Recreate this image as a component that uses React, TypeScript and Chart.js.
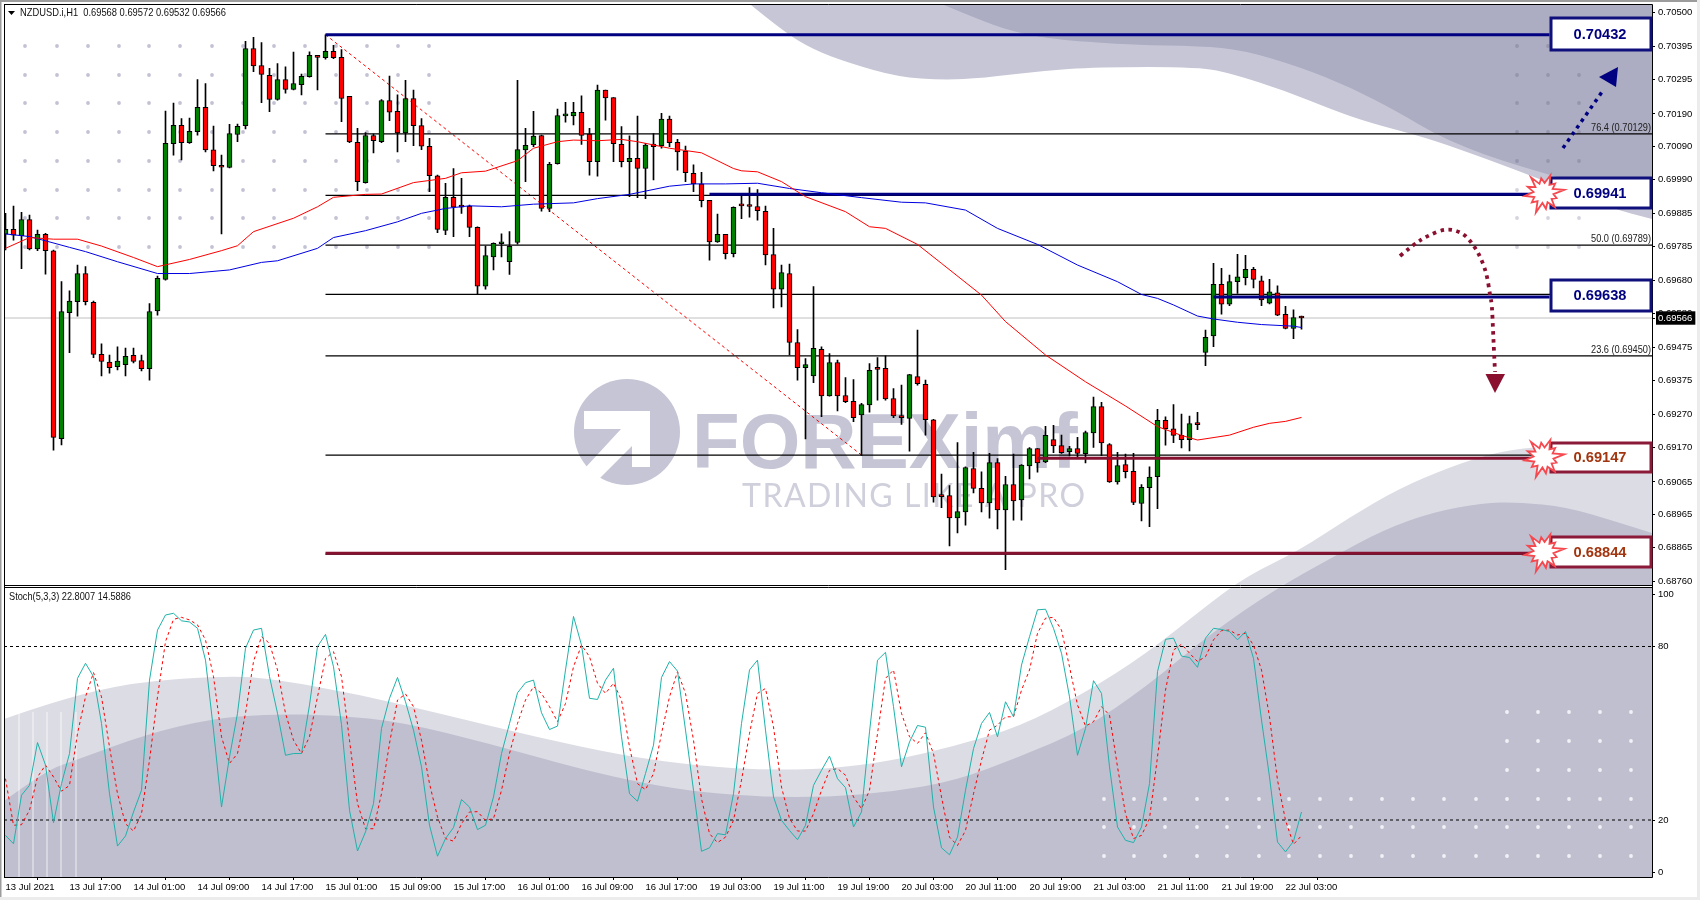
import React, { useEffect, useRef } from "react";
import { Chart, registerables } from "chart.js";

Chart.register(...registerables);

const OPEN = [
.69822,.69837,.69818,.69867,.69777,.69822,.69771,.69197,.69582,.69616,
.69702,.69614,.69455,.69431,.69417,.69423,.69452,.69436,.69411,.69588,
.69684,.70099,.70155,.70102,.70136,.70210,.70080,.70029,.70026,.70127,
.70154,.70390,.70338,.70308,.70234,.70295,.70265,.70279,.70304,.70369,
.70362,.70381,.70363,.70244,.70103,.69980,.70124,.70105,.70231,.70198,
.70132,.70237,.70154,.70091,.70001,.69834,.69935,.69907,.69908,.69843,
.69663,.69753,.69793,.69738,.69797,.70080,.70096,.70124,.69901,.70038,
.70184,.70184,.70195,.70128,.70044,.70263,.70240,.70097,.70044,.70054,
.70023,.70098,.70093,.70174,.70103,.70076,.70008,.69976,.69926,.69799,
.69822,.69763,.69911,.69909,.69907,.69892,.69760,.69654,.69702,.69491,
.69414,.69389,.69470,.69328,.69430,.69329,.69311,.69270,.69300,.69411,
.69412,.69320,.69268,.69259,.69387,.69363,.69255,.69022,.69023,.68955,
.68973,.69106,.69045,.69001,.69124,.68979,.69057,.69010,.69114,.69167,
.69126,.69194,.69176,.69157,.69167,.69151,.69215,.69295,.69179,.69065,
.69118,.69097,.68999,.69047,.69081,.69253,.69227,.69207,.69194,.69242,
.69461,.69511,.69669,.69608,.69677,.69689,.69715,.69680,.69611,.69643,
.69577,.69534,.69568];

const HIGH = [
.69886,.69908,.69889,.69881,.69835,.69825,.69774,.69677,.69649,.69728,
.69723,.69618,.69487,.69453,.69478,.69474,.69474,.69453,.69610,.69694,
.70199,.70223,.70176,.70177,.70295,.70283,.70153,.70064,.70158,.70159,
.70412,.70424,.70408,.70329,.70344,.70334,.70379,.70312,.70380,.70369,
.70432,.70400,.70387,.70244,.70146,.70133,.70128,.70234,.70306,.70248,
.70293,.70263,.70176,.70115,.70003,.69978,.70023,.69993,.69911,.69845,
.69786,.69796,.69823,.69830,.70293,.70146,.70198,.70125,.70042,.70205,
.70225,.70225,.70245,.70146,.70278,.70263,.70240,.70151,.70123,.70183,
.70100,.70130,.70192,.70183,.70112,.70092,.70034,.70011,.69926,.69884,
.69822,.69906,.69942,.69965,.69959,.69908,.69840,.69728,.69731,.69531,
.69442,.69662,.69478,.69457,.69437,.69384,.69378,.69305,.69427,.69445,
.69450,.69350,.69361,.69394,.69529,.69376,.69256,.69089,.69054,.69185,
.69111,.69155,.69096,.69152,.69136,.69082,.69150,.69118,.69170,.69167,
.69235,.69238,.69208,.69174,.69201,.69220,.69324,.69308,.69182,.69155,
.69150,.69152,.69057,.69111,.69287,.69264,.69301,.69272,.69266,.69278,
.69529,.69733,.69718,.69697,.69761,.69758,.69721,.69694,.69684,.69664,
.69602,.69591,.69572];

const LOW = [
.69774,.69804,.69717,.69774,.69772,.69700,.69162,.69178,.69460,.69572,
.69606,.69445,.69389,.69397,.69407,.69389,.69429,.69404,.69376,.69575,
.69682,.70064,.70049,.70100,.70125,.70074,.70016,.69823,.70025,.70105,
.70144,.70319,.70224,.70197,.70232,.70253,.70263,.70248,.70302,.70263,
.70357,.70359,.70166,.70102,.69955,.69978,.70071,.70102,.70169,.70074,
.70105,.70093,.70081,.69952,.69827,.69821,.69815,.69886,.69815,.69638,
.69654,.69713,.69753,.69699,.69792,.69983,.70090,.69893,.69891,.70036,
.70165,.70156,.70097,.70003,.70000,.70171,.70044,.70028,.69937,.69934,
.69931,.69988,.70085,.70090,.70018,.69983,.69952,.69906,.69743,.69797,
.69747,.69753,.69870,.69874,.69865,.69728,.69597,.69600,.69453,.69376,
.69196,.69368,.69264,.69327,.69282,.69307,.69249,.69146,.69278,.69315,
.69315,.69261,.69241,.69159,.69361,.69208,.69003,.68986,.68869,.68909,
.68933,.69031,.68973,.68954,.68921,.68797,.68948,.68948,.69074,.69095,
.69124,.69154,.69152,.69144,.69136,.69123,.69170,.69145,.69063,.69058,
.69077,.68995,.68946,.68928,.68983,.69177,.69185,.69169,.69160,.69225,
.69420,.69478,.69578,.69604,.69641,.69667,.69658,.69604,.69609,.69573,
.69533,.69503,.69532];

const CLOSE = [
.69837,.69819,.69867,.69777,.69822,.69772,.69201,.69586,.69618,.69702,
.69616,.69455,.69433,.69414,.69434,.69449,.69433,.69411,.69586,.69687,
.70100,.70155,.70102,.70137,.70210,.70080,.70032,.70027,.70130,.70152,
.70390,.70337,.70311,.70234,.70295,.70265,.70283,.70305,.70369,.70363,
.70381,.70362,.70237,.70104,.69983,.70124,.70108,.70231,.70195,.70132,
.70237,.70154,.70091,.70001,.69837,.69935,.69905,.69905,.69843,.69663,
.69757,.69794,.69796,.69785,.70081,.70094,.70122,.69901,.70036,.70185,
.70186,.70195,.70124,.70044,.70263,.70239,.70099,.70044,.70054,.70023,
.70095,.70090,.70174,.70102,.70074,.70010,.69976,.69925,.69799,.69822,
.69763,.69904,.69909,.69907,.69894,.69759,.69654,.69705,.69491,.69414,
.69424,.69473,.69328,.69430,.69328,.69310,.69261,.69301,.69406,.69409,
.69319,.69267,.69261,.69393,.69365,.69255,.69019,.69020,.68955,.68974,
.69109,.69045,.69001,.69124,.68979,.69057,.69007,.69116,.69167,.69123,
.69207,.69175,.69154,.69167,.69152,.69216,.69295,.69184,.69065,.69115,
.69096,.69002,.69048,.69080,.69253,.69228,.69207,.69194,.69243,.69240,
.69507,.69669,.69608,.69677,.69692,.69715,.69684,.69621,.69646,.69575,
.69534,.69567,.69566];

const MA_FAST_BARS = [0,3,6,9,12,16,19,23,27,29,31,36,39,41,45,47,51,55,57,60,64,66,69,71,74,77,79,83,87,91,92,94,97,100,105,108,110,114,117,122,125,130,135,140,144,146,147,149,153,156,158,160,162];
const MA_FAST = [.69779,.69812,.69807,.69807,.69786,.69751,.69723,.69745,.69772,.69787,.69830,.69871,.69906,.69935,.69944,.69945,.69980,.69993,.70010,.70015,.70047,.70085,.70105,.70110,.70108,.70112,.70105,.70085,.70071,.70023,.70016,.70013,.69983,.69937,.69891,.69845,.69840,.69791,.69733,.69636,.69555,.69453,.69371,.69297,.69234,.69216,.69207,.69193,.69208,.69232,.69244,.69250,.69262];

const MA_SLOW_BARS = [0,3,5,8,10,14,19,23,28,32,34,39,41,45,49,52,55,58,62,66,71,74,78,80,83,86,90,94,98,102,107,112,115,120,124,129,134,139,142,144,146,149,151,154,157,161,162];
const MA_SLOW = [.69823,.69815,.69802,.69782,.69769,.69738,.69702,.69702,.69713,.69736,.69741,.69779,.69812,.69833,.69860,.69886,.69901,.69909,.69906,.69914,.69918,.69931,.69944,.69954,.69969,.69976,.69976,.69978,.69962,.69949,.69934,.69920,.69918,.69896,.69840,.69791,.69728,.69677,.69638,.69626,.69606,.69572,.69563,.69553,.69546,.69541,.69537];

const STOCH_MAIN = [14.7,11.8,28.6,32,46.8,39,19.1,32.6,43,69,74.2,69.6,53.4,29.1,11,14.5,22.8,30.3,68.4,85.7,90.9,91.5,88.9,88.5,86.3,75.3,51.1,24.5,41.8,56.9,79.4,85.7,86.3,69.6,56.9,42.4,43,43,59.8,80,84.2,73,53,23.4,9.3,15.9,25.7,51.7,62.1,69.3,60.9,51.1,38.4,18.2,7.5,13.6,17.4,27.1,24.5,16.7,18.2,28,43,53.4,64,67.5,68.4,57.1,51.3,52.5,71.9,90.4,80.5,62.1,61.7,68.4,72.5,48.8,29.1,26.5,36.1,45.9,69.3,74.8,71.5,51.1,30.3,9.2,10.4,15.3,14.9,29.1,53.4,71.9,75.3,51.1,28,19.9,16.4,13.2,18.2,32,37.2,42.1,34.3,31.2,17.6,22.8,50.5,75.3,78,59.2,38.4,47,52.7,52.1,24.5,10.4,8,14.1,30.3,44.7,53.4,57.2,48.8,60.9,55.7,73.6,83.4,92.7,92.9,86.3,77.7,62.6,42.4,51.7,68.2,63.8,38.4,17.6,13,12.2,17.6,32.6,71.3,82.5,82.9,76.7,76.2,72.8,82.9,86.3,85.9,85.2,82.3,85.2,75.9,54.6,34.9,12.4,9,12.7,22.8];
const STOCH_SIGNAL = [34.3,18.2,18.4,23.4,34.9,39,34.9,30,32,49.9,62.6,71,62.6,45.3,29.1,18.7,16.2,22.2,40.7,62.6,81.7,89.4,90.1,89.2,87.5,82.3,69.6,48.8,39.6,43,56.9,74.8,83.4,81.1,71.9,56.9,47.6,43,48.8,62.6,75.9,78.2,69.6,47.6,25.7,17,17,29.1,46.5,61.5,63.6,59.2,47.6,32.6,21.1,13.6,12.7,18.7,22.8,22.9,19.9,20.5,30.3,43,53.4,61.5,66.1,63.8,59.2,54,60.3,73,80.5,76.5,67.3,63.8,67.3,61.5,45.3,32.6,30.5,36.1,49.9,62.6,71.3,63.8,47.6,27.4,15.3,12.2,14.1,19.9,33.8,49.9,63.8,65.5,52.2,31.4,20.5,16.2,16.2,22.2,30.3,37.2,37.8,35.5,28,23.9,30.3,49.9,69,71.9,56.9,48.8,46.5,50.2,43,28,14.1,11.2,16.4,29.1,40.7,51.1,52.8,55.7,55.7,64.9,71.9,84.6,89.8,90.1,85.7,73,59.8,52.5,54,59.2,56.3,38.4,22.2,13.6,14.7,20.5,41.8,64.9,78.8,80.8,77.7,74.8,76.5,82.3,85.5,85.7,84,84.6,80.5,71.9,55.7,33.8,19.9,11.6,14.6];

const FIB_LEVELS = [.70129,.69941,.69789,.69638,.69450,.69147,.68844];
const FIB_LABELS = ["76.4 (0.70129)","50.0 (0.69789)","23.6 (0.69450)"];
const FIB_LABEL_LEVELS = [.70129,.69789,.69450];
const FIB_START_BAR = 40;
const BLUE_LEVELS = [.70432,.69944,.69630];
const BLUE_START_BARS = [40,88,151];
const BLUE_END_BARS = [193,191,193];
const RED_LEVELS = [.69137,.68847];
const RED_START_BARS = [129,40];
const RED_END_BARS = [191,191];
const TREND_BARS = [40,107];
const TREND_VALUES = [.70432,.69147];
const LAST_PRICE = .69566;
const STOCH_LEVELS = [80,20];

const PRICE_TICKS = [.705,.70395,.70295,.7019,.7009,.6999,.69885,.69785,.6968,.6958,.69475,.69375,.6927,.6917,.69065,.68965,.68865,.6876,.69566];
const STOCH_TICKS = [98,80,20,2];
const STOCH_TICK_LABELS = ["100","80","20","0"];
const TIME_LABELS = ["13 Jul 2021","13 Jul 17:00","14 Jul 01:00","14 Jul 09:00","14 Jul 17:00","15 Jul 01:00","15 Jul 09:00","15 Jul 17:00","16 Jul 01:00","16 Jul 09:00","16 Jul 17:00","19 Jul 03:00","19 Jul 11:00","19 Jul 19:00","20 Jul 03:00","20 Jul 11:00","20 Jul 19:00","21 Jul 03:00","21 Jul 11:00","21 Jul 19:00","22 Jul 03:00"];
const TIME_LABEL_STEP = 8;

const CALLOUTS = [
  { label: "0.70432", top: 18, bottom: 50, stroke: "#10107c", color: "#000080", star: false },
  { label: "0.69941", top: 178, bottom: 208, stroke: "#10107c", color: "#000080", star: true },
  { label: "0.69638", top: 280, bottom: 311, stroke: "#10107c", color: "#000080", star: false },
  { label: "0.69147", top: 443, bottom: 472, stroke: "#8b1a38", color: "#a2350f", star: true },
  { label: "0.68844", top: 537, bottom: 567, stroke: "#8b1a38", color: "#a2350f", star: true },
];

type P = [number, number];

function smooth(ctx: CanvasRenderingContext2D, pts: P[], move = true) {
  if (move) ctx.moveTo(pts[0][0], pts[0][1]);
  else ctx.lineTo(pts[0][0], pts[0][1]);
  for (let i = 1; i < pts.length - 1; i++) {
    const mx = (pts[i][0] + pts[i + 1][0]) / 2;
    const my = (pts[i][1] + pts[i + 1][1]) / 2;
    ctx.quadraticCurveTo(pts[i][0], pts[i][1], mx, my);
  }
  const l = pts[pts.length - 1];
  ctx.lineTo(l[0], l[1]);
}

function fillWave(ctx: CanvasRenderingContext2D, pts: P[], tail: P[], color: string) {
  ctx.beginPath();
  smooth(ctx, pts);
  tail.forEach((p) => ctx.lineTo(p[0], p[1]));
  ctx.closePath();
  ctx.fillStyle = color;
  ctx.fill();
}

const TOP_LIGHT: P[] = [[751,5],[784,32],[814,50],[849,63],[898,77],[944,80],[983,78],[1040,71],[1097,67],[1200,67],[1233,74],[1283,90],[1333,110],[1367,122],[1427,138],[1467,152],[1500,164],[1550,183],[1610,208],[1652,219]];
const TOP_DARK: P[] = [[944,5],[975,18],[1013,32],[1059,40],[1136,45],[1200,46],[1243,50],[1300,67],[1350,87],[1400,113],[1433,133],[1467,148],[1500,160],[1550,175],[1652,205]];
const LOW_LIGHT: P[] = [[4,719],[58,700],[134,682],[223,676],[268,678],[357,694],[446,715],[536,737],[625,756],[700,766],[764,770],[828,769],[891,761],[955,746],[1019,727],[1083,694],[1146,654],[1210,603],[1247,576],[1300,550],[1350,517],[1400,488],[1450,467],[1493,453],[1533,447],[1600,443],[1652,445]];
const LOW_MID: P[] = [[4,801],[45,771],[76,760],[147,734],[210,719],[268,714],[335,715],[402,722],[491,744],[580,769],[647,784],[700,792],[764,797],[828,797],[891,792],[955,781],[1019,757],[1083,730],[1146,687],[1210,634],[1274,590],[1333,557],[1383,530],[1433,512],[1483,503],[1517,502],[1567,507],[1617,522],[1652,533]];

const BAND_X = [19,33,47,61,76];
const DOT_COLS_LEFT = [25,57,88,119,149,180,212,243,274,305,336,367,398,429];
const DOT_COLS_RIGHT = [1517,1548,1579];
const DOT_ROWS = [46,75,103,132,161,190,218,247];
const WHITE_DOT_COLS = [1104,1134,1165,1197,1227,1259,1289,1320,1351,1382,1413,1444,1476,1507,1538,1569,1600,1631];
const WHITE_DOT_ROWS_LOW = [799,827,856];
const WHITE_DOT_ROWS_HIGH = [712,741,770];
const STAR_RADII = [19,15,21,14,18,16,21,15,19,17,20,15];

function drawText(ctx: CanvasRenderingContext2D, s: string, x: number, y: number, font: string, color: string, align: CanvasTextAlign = "left", maxW?: number) {
  ctx.font = font;
  ctx.fillStyle = color;
  ctx.textAlign = align;
  ctx.textBaseline = "middle";
  if (maxW) ctx.fillText(s, x, y, maxW);
  else ctx.fillText(s, x, y);
}

function drawBackdrop(ctx: CanvasRenderingContext2D, a: { left: number; right: number; top: number; bottom: number }) {
  ctx.save();
  ctx.fillStyle = "#ffffff";
  ctx.fillRect(0, 0, 1700, 900);
  ctx.fillStyle = "#9c9c9c";
  ctx.fillRect(0, 0, 1700, 2);
  ctx.fillRect(0, 0, 1.5, 900);
  ctx.fillStyle = "#ececec";
  ctx.fillRect(0, 897, 1700, 3);
  ctx.fillRect(1697, 0, 3, 900);

  ctx.beginPath();
  ctx.rect(a.left, a.top, a.right - a.left, a.bottom - a.top);
  ctx.clip();

  fillWave(ctx, TOP_LIGHT, [[1652, 5]], "#c6c6d6");
  fillWave(ctx, TOP_DARK, [[1652, 5]], "#acacc2");
  fillWave(ctx, LOW_LIGHT, [[1652, 877], [4, 877]], "#dcdce4");
  fillWave(ctx, LOW_MID, [[1652, 877], [4, 877]], "#bfbfd0");

  ctx.fillStyle = "rgba(255,255,255,0.38)";
  BAND_X.forEach((x) => ctx.fillRect(x - 1, 712, 2, 165));

  const dot = (x: number, y: number, c: string, r = 1.9) => {
    ctx.beginPath();
    ctx.arc(x, y, r, 0, Math.PI * 2);
    ctx.fillStyle = c;
    ctx.fill();
  };
  DOT_ROWS.forEach((y) => {
    DOT_COLS_LEFT.forEach((x) => dot(x, y, "#c2c2d4"));
    DOT_COLS_RIGHT.forEach((x) => dot(x, y, y < 170 ? "#9595ad" : "#d4d4e0"));
  });
  WHITE_DOT_COLS.forEach((x) => {
    WHITE_DOT_ROWS_LOW.forEach((y) => dot(x, y, "#f2f2f6"));
    if (x >= 1507) WHITE_DOT_ROWS_HIGH.forEach((y) => dot(x, y, "#f2f2f6"));
  });

  // watermark
  ctx.beginPath();
  ctx.arc(627, 432, 53, 0, Math.PI * 2);
  ctx.fillStyle = "#c5c5d6";
  ctx.fill();
  ctx.fillStyle = "#ffffff";
  ctx.beginPath();
  ctx.moveTo(584, 411);
  ctx.lineTo(650, 411);
  ctx.lineTo(650, 467);
  ctx.lineTo(632, 467);
  ctx.lineTo(632, 446);
  ctx.lineTo(598, 480);
  ctx.lineTo(586, 467);
  ctx.lineTo(621, 429);
  ctx.lineTo(584, 429);
  ctx.closePath();
  ctx.fill();
  ctx.textBaseline = "alphabetic";
  ctx.textAlign = "left";
  ctx.font = 'bold 78px "Liberation Sans"';
  ctx.fillStyle = "#c5c5d6";
  ctx.fillText("FOREXimf", 692, 468, 394);
  ctx.font = '32px "Lato"';
  (ctx as any).letterSpacing = "1.5px";
  ctx.fillStyle = "#d0d0dc";
  ctx.fillText("TRADING LIKE A PRO", 742, 507);
  (ctx as any).letterSpacing = "0px";
  ctx.restore();
}

function drawOverlay(ctx: CanvasRenderingContext2D) {
  ctx.save();
  // frame
  ctx.strokeStyle = "#000000";
  ctx.lineWidth = 1;
  ctx.fillStyle = "#ffffff";
  ctx.fillRect(4, 585, 1648, 3);
  ctx.beginPath();
  ctx.moveTo(4, 4.5); ctx.lineTo(1652.5, 4.5);
  ctx.moveTo(4.5, 4.5); ctx.lineTo(4.5, 877.5);
  ctx.moveTo(1652.5, 4.5); ctx.lineTo(1652.5, 877.5);
  ctx.moveTo(4, 585.5); ctx.lineTo(1652.5, 585.5);
  ctx.moveTo(4, 587.5); ctx.lineTo(1652.5, 587.5);
  ctx.moveTo(4, 877.5); ctx.lineTo(1652.5, 877.5);
  ctx.stroke();

  // headers
  ctx.beginPath();
  ctx.moveTo(8, 11); ctx.lineTo(15, 11); ctx.lineTo(11.5, 15); ctx.closePath();
  ctx.fillStyle = "#000";
  ctx.fill();
  drawText(ctx, "NZDUSD.i,H1  0.69568 0.69572 0.69532 0.69566", 20, 13, '11px "Liberation Sans"', "#101010", "left", 206);
  drawText(ctx, "Stoch(5,3,3) 22.8007 14.5886", 9, 597, '11px "Liberation Sans"', "#101010", "left", 122);

  // callouts
  CALLOUTS.forEach((c) => {
    ctx.fillStyle = "#ffffff";
    ctx.fillRect(1551, c.top, 100, c.bottom - c.top);
    ctx.strokeStyle = c.stroke;
    ctx.lineWidth = 3;
    ctx.strokeRect(1551, c.top, 100, c.bottom - c.top);
    drawText(ctx, c.label, 1600, (c.top + c.bottom) / 2 + 0.5, 'bold 15.5px "Liberation Sans"', c.color, "center", 53);
    if (c.star) {
      const cx = 1543.5;
      const cy = (c.top + c.bottom) / 2;
      ctx.beginPath();
      STAR_RADII.forEach((r, i) => {
        const a0 = (i / STAR_RADII.length) * Math.PI * 2 - 1.2;
        const a1 = ((i + 0.5) / STAR_RADII.length) * Math.PI * 2 - 1.2;
        const fx = cx + r * Math.cos(a0);
        const fy = cy + r * Math.sin(a0);
        if (i === 0) ctx.moveTo(fx, fy);
        else ctx.lineTo(fx, fy);
        ctx.lineTo(cx + 10 * Math.cos(a1), cy + 10 * Math.sin(a1));
      });
      ctx.closePath();
      ctx.fillStyle = "#ffffff";
      ctx.fill();
      ctx.strokeStyle = "#f5494f";
      ctx.lineWidth = 1.8;
      ctx.stroke();
    }
  });

  // blue dotted arrow
  ctx.lineWidth = 3.5;
  ctx.setLineDash([3.5, 4.5]);
  ctx.strokeStyle = "#000080";
  ctx.beginPath();
  ctx.moveTo(1563, 148);
  ctx.lineTo(1604, 89);
  ctx.stroke();
  ctx.setLineDash([]);
  ctx.fillStyle = "#000080";
  ctx.beginPath();
  ctx.moveTo(1618, 67); ctx.lineTo(1599, 77); ctx.lineTo(1616, 87); ctx.closePath();
  ctx.fill();

  // red dotted curve
  ctx.lineWidth = 3.8;
  ctx.setLineDash([3.5, 4.5]);
  ctx.strokeStyle = "#8b1030";
  ctx.beginPath();
  smooth(ctx, [[1400,256],[1413,245],[1427,236],[1447,228],[1463,233],[1473,244],[1481,258],[1487,275],[1490,295],[1492,305],[1493,330],[1495,372]]);
  ctx.stroke();
  ctx.setLineDash([]);
  ctx.fillStyle = "#8b1030";
  ctx.beginPath();
  ctx.moveTo(1485.5, 374); ctx.lineTo(1505, 374); ctx.lineTo(1495, 393); ctx.closePath();
  ctx.fill();
  ctx.restore();
}

const levelLine = (y: number, fromBar: number, toBar: number, color: string, width: number, order: number, yAxisID = "y", dash: number[] = []) => ({
  type: "line" as const,
  data: [{ x: fromBar, y }, { x: toBar, y }],
  borderColor: color,
  borderWidth: width,
  borderDash: dash,
  pointRadius: 0,
  order,
  yAxisID,
  xAxisID: "x",
});

const X_MIN = -0.1875;
const X_MAX = 205.8125;

const fitVertical = (s: any) => {
  s.width = 48;
  s.paddingTop = 0;
  s.paddingBottom = 0;
};

export default function App() {
  const ref = useRef<HTMLCanvasElement>(null);

  useEffect(() => {
    if (!ref.current) return;
    const bars = OPEN.map((_, i) => i);
    const green = "#008000";
    const red = "#ff0000";
    const chart = new Chart(ref.current, {
      type: "bar",
      data: {
        datasets: [
          { type: "line", label: "MA fast", data: MA_FAST_BARS.map((b, i) => ({ x: b, y: MA_FAST[i] })), borderColor: "#ff0000", borderWidth: 1, pointRadius: 0, order: 1, yAxisID: "y", xAxisID: "x" },
          { type: "line", label: "MA slow", data: MA_SLOW_BARS.map((b, i) => ({ x: b, y: MA_SLOW[i] })), borderColor: "#0000e0", borderWidth: 1, pointRadius: 0, order: 1, yAxisID: "y", xAxisID: "x" },
          { type: "line", label: "%K", data: bars.map((b) => ({ x: b, y: STOCH_MAIN[b] })), borderColor: "#20b2aa", borderWidth: 1, pointRadius: 0, order: 1, yAxisID: "y2", xAxisID: "x" },
          { type: "line", label: "%D", data: bars.map((b) => ({ x: b, y: STOCH_SIGNAL[b] })), borderColor: "#ff0000", borderWidth: 1, borderDash: [3, 3], pointRadius: 0, order: 2, yAxisID: "y2", xAxisID: "x" },
          ...BLUE_LEVELS.map((v, i) => levelLine(v, BLUE_START_BARS[i], BLUE_END_BARS[i], "#000080", 3, 2)),
          ...RED_LEVELS.map((v, i) => levelLine(v, RED_START_BARS[i], RED_END_BARS[i], "#85102f", 3, 2)),
          ...STOCH_LEVELS.map((v) => levelLine(v, X_MIN, X_MAX, "#000000", 1.1, 3, "y2", [3, 3])),
          { type: "bar", label: "Body", data: bars.map((b) => ({ x: b, y: [OPEN[b], CLOSE[b]] })), backgroundColor: bars.map((b) => (CLOSE[b] >= OPEN[b] ? green : red)), borderColor: "#000000", borderWidth: 1, borderSkipped: false, barThickness: 5, minBarLength: 2, grouped: false, order: 4, yAxisID: "y", xAxisID: "x" },
          { type: "bar", label: "Wick", data: bars.map((b) => ({ x: b, y: [LOW[b], HIGH[b]] })), backgroundColor: "#000000", barThickness: 1, grouped: false, order: 5, yAxisID: "y", xAxisID: "x" },
          ...FIB_LEVELS.map((v) => levelLine(v, FIB_START_BAR, X_MAX, "#000000", 1.3, 6)),
          { type: "line", label: "Trend", data: TREND_BARS.map((b, i) => ({ x: b, y: TREND_VALUES[i] })), borderColor: "#ff0000", borderWidth: 1, borderDash: [3, 3], pointRadius: 0, order: 6, yAxisID: "y", xAxisID: "x" },
          levelLine(LAST_PRICE, X_MIN, X_MAX, "#c0c0c0", 1, 7),
        ] as any,
      },
      options: {
        animation: false,
        responsive: false,
        devicePixelRatio: 1,
        layout: { padding: { left: 4, top: 4.5, right: 0, bottom: 0 } },
        plugins: { legend: { display: false }, tooltip: { enabled: false } },
        events: [],
        scales: {
          x: {
            type: "linear",
            min: X_MIN,
            max: X_MAX,
            offset: false,
            position: "bottom",
            grid: { drawOnChartArea: false, drawTicks: true, tickLength: 3, color: "#000000" },
            border: { display: false },
            afterBuildTicks: (s: any) => {
              s.ticks = TIME_LABELS.map((_, i) => ({ value: i * TIME_LABEL_STEP }));
            },
            afterFit: (s: any) => {
              s.height = 23;
              s.paddingLeft = 0;
              s.paddingRight = 0;
            },
            ticks: {
              autoSkip: false,
              maxRotation: 0,
              minRotation: 0,
              align: "start",
              padding: 2,
              color: "#000000",
              font: { family: '"Liberation Sans"', size: 9.5 },
              callback: (_v: any, i: number) => TIME_LABELS[i],
            },
          },
          y: {
            type: "linear",
            position: "right",
            stack: "panes",
            stackWeight: 582,
            min: 0.6874517,
            max: 0.7052446,
            grid: { drawOnChartArea: false, drawTicks: true, tickLength: 3, color: "#000000" },
            border: { display: false },
            afterBuildTicks: (s: any) => {
              s.ticks = PRICE_TICKS.map((value) => ({ value }));
            },
            afterFit: fitVertical,
            ticks: {
              autoSkip: false,
              padding: 3,
              font: { family: '"Liberation Sans"', size: 9.5 },
              color: (c: any) => (c.tick && c.tick.value === LAST_PRICE ? "#ffffff" : "#000000"),
              showLabelBackdrop: (c: any) => !!(c.tick && c.tick.value === LAST_PRICE),
              backdropColor: "#000000",
              backdropPadding: { top: 1, bottom: 1, left: 2, right: 3 },
              callback: (v: any) => Number(v).toFixed(5),
            },
          },
          y2: {
            type: "linear",
            position: "right",
            stack: "panes",
            stackWeight: 290.5,
            min: 0.31,
            max: 100.76,
            grid: { drawOnChartArea: false, drawTicks: true, tickLength: 3, color: "#000000" },
            border: { display: false },
            afterBuildTicks: (s: any) => {
              s.ticks = STOCH_TICKS.map((value) => ({ value }));
            },
            afterFit: fitVertical,
            ticks: {
              autoSkip: false,
              padding: 3,
              color: "#000000",
              font: { family: '"Liberation Sans"', size: 9.5 },
              callback: (_v: any, i: number) => STOCH_TICK_LABELS[i],
            },
          },
        },
      } as any,
      plugins: [
        {
          id: "chartFurniture",
          beforeDraw: (c: any) => drawBackdrop(c.ctx, c.chartArea),
          afterDatasetsDraw: (c: any) => {
            drawOverlay(c.ctx);
            const y = c.scales.y;
            FIB_LABELS.forEach((t, i) => {
              drawText(c.ctx, t, 1651, y.getPixelForValue(FIB_LABEL_LEVELS[i]) - 6, '11px "Liberation Sans"', "#202020", "right", 60);
            });
          },
        },
      ],
    });
    return () => chart.destroy();
  }, []);

  return (
    <div style={{ position: "fixed", left: 0, top: 0, width: 1700, height: 900, background: "#ffffff" }}>
      <canvas ref={ref} width={1700} height={900} style={{ display: "block", width: 1700, height: 900 }} />
    </div>
  );
}
